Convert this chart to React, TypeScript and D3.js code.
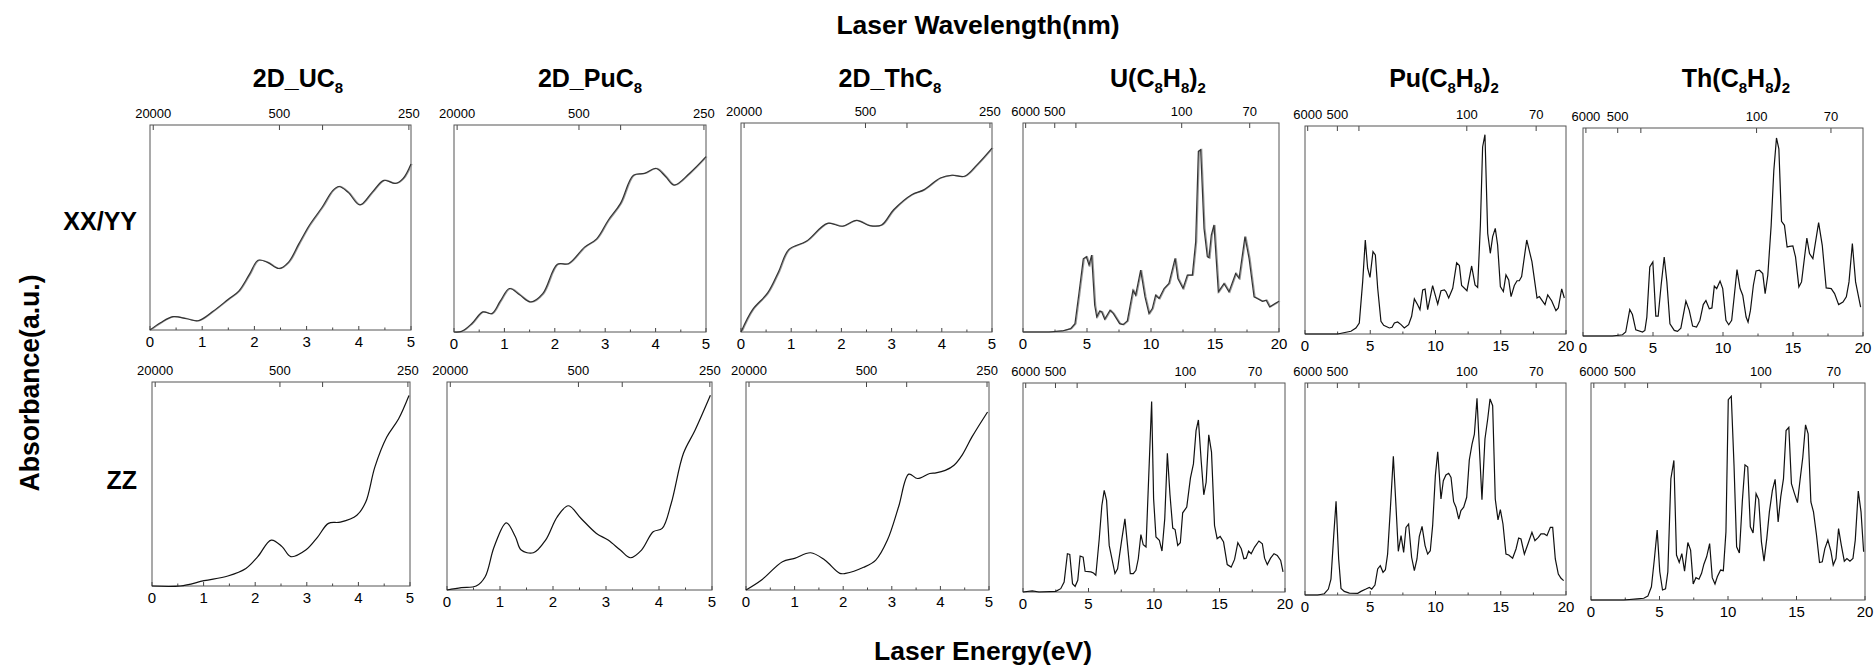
import React, { useEffect, useRef } from 'react';
import * as d3 from 'd3';

const WIDTH = 1876;
const HEIGHT = 671;
const HC = 1239.84; // eV*nm

// title pieces: [text, isSubscript]
const panelTitles: [string, boolean][][] = [
  [['2D_UC', false], ['8', true]],
  [['2D_PuC', false], ['8', true]],
  [['2D_ThC', false], ['8', true]],
  [['U(C', false], ['8', true], ['H', false], ['8', true], [')', false], ['2', true]],
  [['Pu(C', false], ['8', true], ['H', false], ['8', true], [')', false], ['2', true]],
  [['Th(C', false], ['8', true], ['H', false], ['8', true], [')', false], ['2', true]],
];
const rowLabels = ['XX/YY', 'ZZ'];

const energyTicksSlab = [0, 1, 2, 3, 4, 5];
const energyTicksMolecule = [0, 5, 10, 15, 20];
const wavelengthTicksSlab = [20000, 500, 375, 250];
const wavelengthLabelsSlab = [20000, 500, 250];
const wavelengthTicksMolecule = [6000, 500, 300, 100, 70];
const wavelengthLabelsMolecule = [6000, 500, 100, 70];

// [energy eV, absorbance a.u.]
const uc8XX: [number, number][] = [
  [0, 0], [0.2, 0.035], [0.44, 0.065], [0.7, 0.055], [0.92, 0.045], [1.2, 0.09], [1.5, 0.15], [1.7, 0.19],
  [1.9, 0.27], [2.07, 0.34], [2.25, 0.33], [2.47, 0.3], [2.65, 0.33], [2.85, 0.42], [3.05, 0.51], [3.3, 0.6],
  [3.5, 0.68], [3.62, 0.7], [3.8, 0.67], [4.02, 0.61], [4.25, 0.67], [4.48, 0.73], [4.7, 0.715], [4.85, 0.74], [5.0, 0.81],
];
const puc8XX: [number, number][] = [
  [0, 0], [0.15, 0.003], [0.35, 0.04], [0.57, 0.097], [0.75, 0.089], [0.92, 0.15], [1.1, 0.21], [1.3, 0.18],
  [1.52, 0.145], [1.76, 0.185], [2.05, 0.327], [2.27, 0.33], [2.59, 0.41], [2.83, 0.45], [3.06, 0.54], [3.3, 0.62],
  [3.56, 0.757], [3.78, 0.766], [4.01, 0.79], [4.2, 0.75], [4.37, 0.71], [4.67, 0.766], [5.0, 0.847],
];
const thc8XX: [number, number][] = [
  [0, 0], [0.23, 0.107], [0.53, 0.187], [0.75, 0.29], [0.95, 0.394], [1.3, 0.434], [1.72, 0.52], [2.02, 0.506],
  [2.3, 0.534], [2.56, 0.509], [2.8, 0.512], [3.04, 0.585], [3.4, 0.657], [3.64, 0.68], [3.97, 0.737], [4.2, 0.75],
  [4.45, 0.745], [4.7, 0.8], [5.0, 0.88],
];
const uc8ZZ: [number, number][] = [
  [0, 0], [0.55, 0], [1.01, 0.026], [1.47, 0.049], [1.82, 0.086], [2.05, 0.144], [2.31, 0.225], [2.52, 0.193],
  [2.69, 0.144], [2.98, 0.176], [3.21, 0.24], [3.42, 0.307], [3.65, 0.313], [3.97, 0.347], [4.14, 0.41],
  [4.32, 0.584], [4.55, 0.73], [4.78, 0.82], [4.98, 0.934],
];
const puc8ZZ: [number, number][] = [
  [0, 0], [0.27, 0.011], [0.55, 0.019], [0.72, 0.064], [0.89, 0.208], [1.12, 0.323], [1.29, 0.256], [1.4, 0.192],
  [1.63, 0.179], [1.86, 0.24], [2.08, 0.352], [2.29, 0.405], [2.53, 0.344], [2.82, 0.272], [3.04, 0.24],
  [3.27, 0.192], [3.46, 0.155], [3.67, 0.192], [3.89, 0.28], [4.06, 0.296], [4.23, 0.416], [4.46, 0.656],
  [4.68, 0.768], [4.97, 0.936],
];
const thc8ZZ: [number, number][] = [
  [0, 0], [0.32, 0.048], [0.75, 0.136], [1.0, 0.152], [1.33, 0.179], [1.62, 0.144], [1.93, 0.08], [2.05, 0.08],
  [2.42, 0.109], [2.67, 0.144], [2.91, 0.24], [3.14, 0.4], [3.35, 0.557], [3.53, 0.536], [3.78, 0.56],
  [3.91, 0.563], [4.1, 0.575], [4.28, 0.6], [4.45, 0.65], [4.65, 0.736], [4.97, 0.856],
];
const uCotXX: [number, number][] = [
  [0, 0], [2.03, 0], [3.07, 0.005], [3.72, 0.016], [4.06, 0.04], [4.38, 0.19], [4.71, 0.35], [4.95, 0.36],
  [5.16, 0.32], [5.36, 0.368], [5.6, 0.128], [5.76, 0.072], [5.99, 0.1], [6.15, 0.096], [6.38, 0.061],
  [6.8, 0.104], [7.06, 0.088], [7.55, 0.04], [7.81, 0.035], [8.15, 0.053], [8.59, 0.2], [8.8, 0.176],
  [9.19, 0.296], [9.53, 0.168], [9.84, 0.088], [10.1, 0.112], [10.36, 0.176], [10.63, 0.16], [11.02, 0.208],
  [11.4, 0.232], [11.88, 0.352], [12.1, 0.256], [12.5, 0.208], [12.84, 0.272], [13.23, 0.272], [13.49, 0.432],
  [13.7, 0.864], [13.88, 0.872], [14.14, 0.496], [14.4, 0.36], [14.53, 0.355], [14.71, 0.464], [14.92, 0.512],
  [15.26, 0.192], [15.7, 0.232], [16.09, 0.192], [16.61, 0.28], [16.88, 0.256], [17.34, 0.456], [17.66, 0.352],
  [18.05, 0.168], [18.3, 0.16], [18.7, 0.147], [19.0, 0.152], [19.27, 0.12], [19.69, 0.136], [20, 0.147],
];
const puCotXX: [number, number][] = [
  [0, 0], [2.5, 0], [3.52, 0.013], [3.9, 0.029], [4.16, 0.053], [4.42, 0.252], [4.62, 0.452], [4.8, 0.316],
  [4.98, 0.272], [5.21, 0.396], [5.39, 0.38], [5.57, 0.22], [5.82, 0.061], [6.03, 0.042], [6.46, 0.029],
  [6.67, 0.032], [6.85, 0.053], [7.1, 0.058], [7.36, 0.045], [7.61, 0.029], [7.94, 0.045], [8.17, 0.085],
  [8.38, 0.169], [8.63, 0.141], [8.81, 0.117], [9.02, 0.212], [9.2, 0.216], [9.4, 0.117], [9.78, 0.233],
  [10.17, 0.144], [10.42, 0.208], [10.68, 0.212], [10.8, 0.204], [11.01, 0.173], [11.32, 0.22], [11.62, 0.342],
  [11.83, 0.329], [12.0, 0.233], [12.41, 0.208], [12.77, 0.327], [13.03, 0.236], [13.23, 0.224], [13.44, 0.524],
  [13.61, 0.899], [13.79, 0.958], [14.0, 0.484], [14.2, 0.388], [14.38, 0.468], [14.58, 0.508], [14.76, 0.428],
  [14.97, 0.228], [15.2, 0.204], [15.4, 0.284], [15.61, 0.26], [15.79, 0.18], [16.04, 0.233], [16.25, 0.256],
  [16.42, 0.256], [16.6, 0.276], [16.99, 0.452], [17.39, 0.348], [17.78, 0.173], [17.96, 0.18], [18.39, 0.141],
  [18.6, 0.188], [18.9, 0.16], [19.23, 0.112], [19.41, 0.125], [19.67, 0.217], [19.87, 0.173],
];
const thCotXX: [number, number][] = [
  [0, 0], [2.1, 0], [2.82, 0.006], [3.05, 0.019], [3.34, 0.127], [3.53, 0.103], [3.77, 0.03], [4.25, 0.019],
  [4.42, 0.027], [4.56, 0.091], [4.77, 0.332], [4.99, 0.356], [5.2, 0.096], [5.37, 0.096], [5.58, 0.244],
  [5.8, 0.38], [5.99, 0.26], [6.21, 0.059], [6.52, 0.027], [6.75, 0.022], [6.99, 0.038], [7.35, 0.168],
  [7.59, 0.123], [7.83, 0.048], [8.11, 0.043], [8.35, 0.075], [8.59, 0.151], [8.78, 0.171], [9.02, 0.131],
  [9.21, 0.135], [9.38, 0.24], [9.55, 0.228], [9.79, 0.264], [9.98, 0.228], [10.21, 0.075], [10.41, 0.054],
  [10.62, 0.075], [10.81, 0.196], [11.0, 0.319], [11.22, 0.228], [11.41, 0.196], [11.65, 0.091], [11.79, 0.067],
  [11.96, 0.123], [12.17, 0.244], [12.36, 0.313], [12.6, 0.316], [12.84, 0.3], [13.01, 0.204], [13.2, 0.292],
  [13.44, 0.532], [13.63, 0.796], [13.82, 0.952], [13.99, 0.9], [14.18, 0.551], [14.39, 0.532], [14.58, 0.428],
  [14.75, 0.431], [14.99, 0.433], [15.18, 0.38], [15.42, 0.236], [15.61, 0.26], [15.99, 0.471], [16.18, 0.396],
  [16.42, 0.372], [16.83, 0.545], [17.09, 0.436], [17.37, 0.231], [17.73, 0.228], [17.97, 0.204], [18.26, 0.151],
  [18.57, 0.163], [18.81, 0.188], [19.0, 0.26], [19.24, 0.444], [19.47, 0.26], [19.83, 0.139],
];
const uCotZZ: [number, number][] = [
  [0, 0], [0.71, 0.005], [1.22, 0], [2.5, 0.003], [2.88, 0.016], [3.14, 0.048], [3.39, 0.183], [3.57, 0.18],
  [3.78, 0.04], [3.98, 0.027], [4.18, 0.056], [4.36, 0.172], [4.59, 0.167], [4.74, 0.099], [5.18, 0.096],
  [5.38, 0.091], [5.56, 0.08], [5.82, 0.255], [6.02, 0.414], [6.2, 0.486], [6.38, 0.438], [6.58, 0.223],
  [7.02, 0.088], [7.22, 0.111], [7.55, 0.255], [7.78, 0.35], [7.98, 0.223], [8.19, 0.088], [8.42, 0.088],
  [8.62, 0.104], [8.8, 0.159], [9.0, 0.275], [9.18, 0.226], [9.39, 0.215], [9.59, 0.541], [9.82, 0.911],
  [9.97, 0.446], [10.15, 0.263], [10.41, 0.247], [10.61, 0.196], [10.82, 0.35], [11.02, 0.664], [11.22, 0.465],
  [11.43, 0.306], [11.61, 0.299], [11.81, 0.223], [12.01, 0.236], [12.19, 0.379], [12.5, 0.406], [12.78, 0.545],
  [13.01, 0.613], [13.21, 0.772], [13.39, 0.823], [13.6, 0.629], [13.8, 0.465], [13.98, 0.525], [14.18, 0.752],
  [14.39, 0.669], [14.62, 0.318], [14.82, 0.255], [15.05, 0.266], [15.31, 0.239], [15.59, 0.131], [15.89, 0.119],
  [16.15, 0.156], [16.4, 0.236], [16.66, 0.207], [16.86, 0.159], [17.04, 0.162], [17.22, 0.196], [17.42, 0.183],
  [17.68, 0.215], [18.01, 0.244], [18.27, 0.231], [18.44, 0.162], [18.65, 0.131], [18.9, 0.162], [19.16, 0.183],
  [19.41, 0.175], [19.67, 0.151], [19.85, 0.096],
];
const puCotZZ: [number, number][] = [
  [0, 0], [0.97, 0], [1.48, 0.006], [1.79, 0.028], [1.99, 0.075], [2.2, 0.28], [2.38, 0.442], [2.58, 0.17],
  [2.76, 0.031], [3.01, 0.017], [3.4, 0.009], [4.04, 0.008], [4.29, 0.017], [4.67, 0.028], [4.93, 0.036],
  [5.11, 0.028], [5.36, 0.047], [5.57, 0.123], [5.77, 0.138], [5.98, 0.107], [6.16, 0.119], [6.33, 0.193],
  [6.54, 0.406], [6.77, 0.654], [6.97, 0.421], [7.15, 0.206], [7.36, 0.28], [7.56, 0.201], [7.74, 0.319],
  [7.94, 0.335], [8.17, 0.178], [8.38, 0.115], [8.58, 0.17], [8.76, 0.277], [8.97, 0.324], [9.2, 0.233],
  [9.4, 0.193], [9.6, 0.209], [9.78, 0.327], [9.99, 0.563], [10.17, 0.676], [10.42, 0.453], [10.6, 0.539],
  [10.8, 0.566], [11.01, 0.574], [11.19, 0.555], [11.39, 0.44], [11.57, 0.414], [11.78, 0.358], [11.95, 0.398],
  [12.16, 0.414], [12.39, 0.461], [12.59, 0.637], [12.8, 0.712], [12.98, 0.759], [13.18, 0.928], [13.36, 0.697],
  [13.56, 0.45], [13.79, 0.736], [14.0, 0.83], [14.18, 0.925], [14.38, 0.893], [14.58, 0.453], [14.79, 0.354],
  [14.97, 0.403], [15.17, 0.335], [15.4, 0.193], [15.61, 0.189], [15.91, 0.173], [16.17, 0.217], [16.37, 0.269],
  [16.55, 0.264], [16.81, 0.193], [17.11, 0.245], [17.39, 0.296], [17.62, 0.256], [17.88, 0.272], [18.08, 0.288],
  [18.34, 0.288], [18.54, 0.28], [18.8, 0.319], [18.98, 0.319], [19.18, 0.17], [19.41, 0.099], [19.62, 0.079],
  [19.82, 0.068],
];
const thCotZZ: [number, number][] = [
  [0, 0], [2.39, 0], [3.37, 0.005], [3.85, 0.008], [4.15, 0.018], [4.41, 0.061], [4.63, 0.191], [4.83, 0.322],
  [5.02, 0.13], [5.22, 0.046], [5.44, 0.051], [5.61, 0.13], [5.83, 0.559], [6.05, 0.643], [6.24, 0.207],
  [6.44, 0.173], [6.63, 0.214], [6.83, 0.133], [7.07, 0.265], [7.27, 0.23], [7.46, 0.074], [7.66, 0.103],
  [7.88, 0.096], [8.07, 0.123], [8.24, 0.165], [8.44, 0.199], [8.66, 0.26], [8.85, 0.103], [9.05, 0.074],
  [9.22, 0.107], [9.46, 0.138], [9.66, 0.135], [9.85, 0.314], [10.02, 0.923], [10.24, 0.939], [10.44, 0.62],
  [10.63, 0.245], [10.83, 0.217], [11.05, 0.459], [11.24, 0.623], [11.44, 0.613], [11.63, 0.337], [11.83, 0.309],
  [12.05, 0.49], [12.24, 0.464], [12.44, 0.268], [12.63, 0.179], [12.83, 0.283], [13.02, 0.406], [13.24, 0.505],
  [13.44, 0.556], [13.66, 0.36], [13.85, 0.475], [14.05, 0.559], [14.24, 0.781], [14.44, 0.796], [14.63, 0.536],
  [14.83, 0.495], [15.07, 0.449], [15.27, 0.559], [15.46, 0.658], [15.66, 0.807], [15.85, 0.766], [16.05, 0.452],
  [16.24, 0.406], [16.46, 0.299], [16.68, 0.173], [16.88, 0.176], [17.07, 0.237], [17.29, 0.276], [17.51, 0.225],
  [17.68, 0.161], [17.88, 0.191], [18.07, 0.329], [18.27, 0.253], [18.49, 0.179], [18.68, 0.191], [18.9, 0.179],
  [19.12, 0.191], [19.29, 0.276], [19.51, 0.502], [19.71, 0.406], [19.9, 0.222],
];

// pixel boxes of the 12 panels (row 0 = XX/YY, row 1 = ZZ)
const boxes = [
  [[150, 411, 125, 330], [454, 706, 125, 332], [741, 992, 123, 332], [1023, 1279, 123, 332], [1305, 1566, 126, 334], [1583, 1863, 128, 336]],
  [[152, 410, 382, 586], [447, 712, 382, 590], [746, 989, 382, 590], [1023, 1285, 383, 592], [1305, 1566, 383, 595], [1591, 1865, 383, 600]],
];
const titleX = [298, 590, 890, 1158, 1444, 1736];

const panels = [
  { row: 0, col: 0, data: uc8XX, slab: true, doubled: true },
  { row: 0, col: 1, data: puc8XX, slab: true, doubled: true },
  { row: 0, col: 2, data: thc8XX, slab: true, doubled: true },
  { row: 0, col: 3, data: uCotXX, slab: false, doubled: true },
  { row: 0, col: 4, data: puCotXX, slab: false, doubled: false },
  { row: 0, col: 5, data: thCotXX, slab: false, doubled: false },
  { row: 1, col: 0, data: uc8ZZ, slab: true, doubled: false },
  { row: 1, col: 1, data: puc8ZZ, slab: true, doubled: false },
  { row: 1, col: 2, data: thc8ZZ, slab: true, doubled: false },
  { row: 1, col: 3, data: uCotZZ, slab: false, doubled: false },
  { row: 1, col: 4, data: puCotZZ, slab: false, doubled: false },
  { row: 1, col: 5, data: thCotZZ, slab: false, doubled: false },
];

const FONT = "'Liberation Sans', Arial, Helvetica, sans-serif";

const App = () => {
  const svgRef = useRef<SVGSVGElement>(null);

  useEffect(() => {
    const svg = d3.select(svgRef.current);
    svg.selectAll('*').remove();
    svg.attr('font-family', FONT);

    svg.append('text')
      .attr('x', 978).attr('y', 34)
      .attr('text-anchor', 'middle')
      .attr('font-size', 26.5).attr('font-weight', 'bold')
      .text('Laser Wavelength(nm)');

    svg.append('text')
      .attr('x', 983).attr('y', 660)
      .attr('text-anchor', 'middle')
      .attr('font-size', 26.5).attr('font-weight', 'bold')
      .text('Laser Energy(eV)');

    svg.append('text')
      .attr('transform', 'translate(39,383) rotate(-90)')
      .attr('text-anchor', 'middle')
      .attr('font-size', 27).attr('font-weight', 'bold')
      .attr('textLength', 217).attr('lengthAdjust', 'spacingAndGlyphs')
      .text('Absorbance(a.u.)');

    rowLabels.forEach((label, i) => {
      svg.append('text')
        .attr('x', 137).attr('y', i === 0 ? 230 : 489)
        .attr('text-anchor', 'end')
        .attr('font-size', 25).attr('font-weight', 'bold')
        .text(label);
    });

    panelTitles.forEach((pieces, i) => {
      const t = svg.append('text')
        .attr('x', titleX[i]).attr('y', 87)
        .attr('text-anchor', 'middle')
        .attr('font-weight', 'bold')
        .attr('font-size', 25);
      let sub = false;
      pieces.forEach(([txt, isSub]) => {
        const dy = isSub === sub ? 0 : isSub ? 6 : -6;
        sub = isSub;
        t.append('tspan')
          .attr('dy', dy)
          .attr('font-size', isSub ? 15 : 25)
          .text(txt);
      });
    });

    panels.forEach(p => {
      const [x0, x1, y0, y1] = boxes[p.row][p.col];
      const maxE = p.slab ? 5 : 20;
      const x = d3.scaleLinear().domain([0, maxE]).range([x0, x1]);
      const y = d3.scaleLinear().domain([0, 1]).range([y1, y0]);
      const g = svg.append('g');

      const eTicks = p.slab ? energyTicksSlab : energyTicksMolecule;
      const step = eTicks[1] - eTicks[0];
      const minor = d3.range(step / 2, maxE, step);
      const wTicks = p.slab ? wavelengthTicksSlab : wavelengthTicksMolecule;
      const wLabels = p.slab ? wavelengthLabelsSlab : wavelengthLabelsMolecule;

      g.selectAll('.tickB').data(eTicks).enter().append('line')
        .attr('x1', d => x(d)).attr('x2', d => x(d))
        .attr('y1', y1).attr('y2', y1 - 4)
        .attr('stroke', '#444').attr('stroke-width', 1);
      g.selectAll('.tickM').data(minor).enter().append('line')
        .attr('x1', d => x(d)).attr('x2', d => x(d))
        .attr('y1', y1).attr('y2', y1 - 2.5)
        .attr('stroke', '#444').attr('stroke-width', 1);
      g.selectAll('.labB').data(eTicks).enter().append('text')
        .attr('x', d => x(d)).attr('y', y1 + 17)
        .attr('text-anchor', 'middle')
        .attr('font-size', 15)
        .text(d => d);

      g.selectAll('.tickT').data(wTicks).enter().append('line')
        .attr('x1', d => x(HC / d)).attr('x2', d => x(HC / d))
        .attr('y1', y0).attr('y2', y0 + 5)
        .attr('stroke', '#444').attr('stroke-width', 1);
      g.selectAll('.labT').data(wLabels).enter().append('text')
        .attr('x', d => x(HC / d)).attr('y', y0 - 7)
        .attr('text-anchor', 'middle')
        .attr('font-size', 13)
        .text(d => d);

      g.append('rect')
        .attr('x', x0).attr('y', y0)
        .attr('width', x1 - x0).attr('height', y1 - y0)
        .attr('fill', 'none')
        .attr('stroke', '#555').attr('stroke-width', 1);

      const line = d3.line<[number, number]>()
        .x(d => x(d[0]))
        .y(d => y(d[1]))
        .curve(p.slab ? d3.curveCatmullRom : d3.curveLinear);

      if (p.doubled) {
        g.append('path')
          .datum(p.data)
          .attr('d', line)
          .attr('transform', 'translate(1,0)')
          .attr('fill', 'none')
          .attr('stroke', '#9a9a9a').attr('stroke-width', 1.3);
      }
      g.append('path')
        .datum(p.data)
        .attr('d', line)
        .attr('fill', 'none')
        .attr('stroke', p.doubled ? '#333' : '#111').attr('stroke-width', 1.2);
    });
  }, []);

  return (
    <svg
      ref={svgRef}
      width={WIDTH}
      height={HEIGHT}
      style={{ position: 'absolute', left: 0, top: 0, background: '#fff' }}
    />
  );
};

export default App;
